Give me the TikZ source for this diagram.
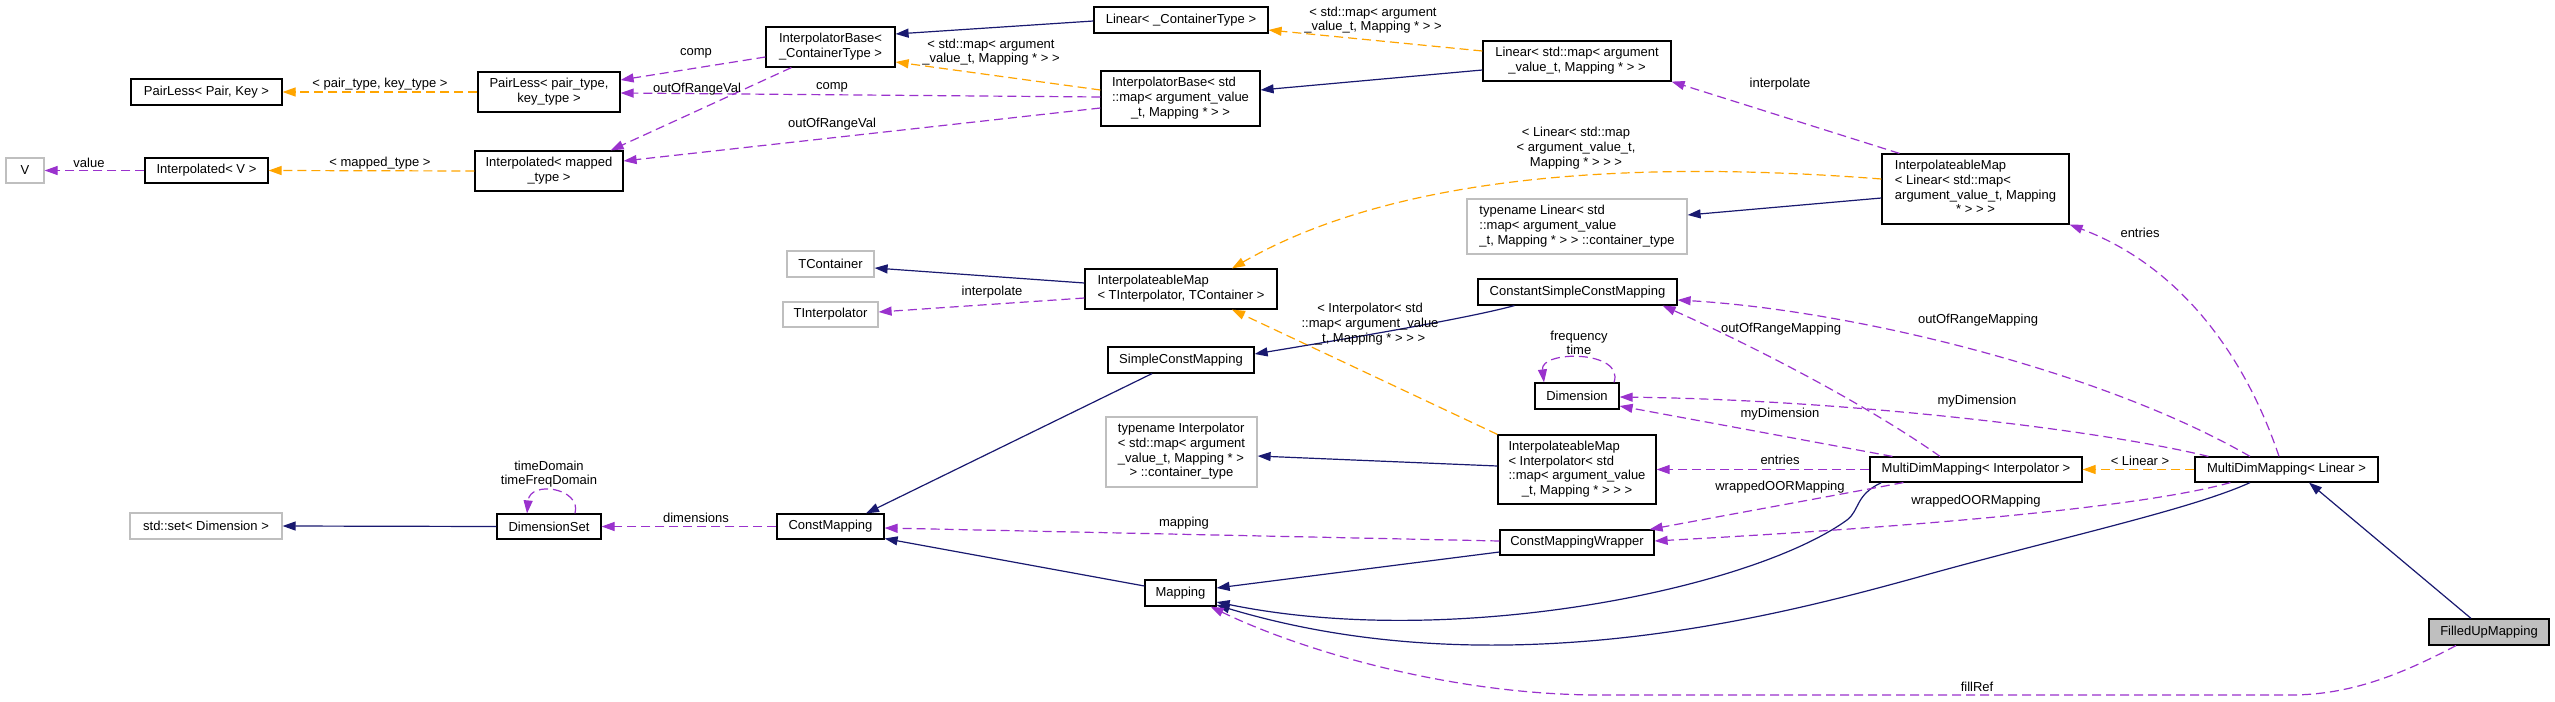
\documentclass[tikz,border=0pt]{standalone}
\usepackage{fontspec}
\setmainfont{Liberation Sans}
\usetikzlibrary{arrows.meta,calc}
\definecolor{navy}{HTML}{191970}
\definecolor{orch}{HTML}{9A32CD}
\definecolor{orng}{HTML}{FFA500}
\definecolor{greyS}{HTML}{BFBFBF}
\newcommand{\dfont}{\fontsize{13}{14.7}\selectfont}
\newcommand{\tb}[2]{\begin{tabular}{@{}l@{}}#1\\\multicolumn{1}{@{}c@{}}{#2}\end{tabular}}
\begin{document}
\begin{tikzpicture}[x=1pt,y=-1pt,
  box/.style={draw=black,line width=1.2pt,fill=white,inner sep=0pt,font=\dfont},
  gbox/.style={box,draw=greyS},
  fbox/.style={box,fill=greyS},
  sz/.style 2 args={minimum width=#1pt,minimum height=#2pt},
  lbl/.style={font=\dfont,inner sep=0pt,align=center},
  tip/.style={-{Triangle[length=13pt,width=9pt]}},
  inh/.style={draw=navy,line width=1.2pt,tip},
  use/.style={draw=orch,line width=1.2pt,dash pattern=on 9pt off 5pt,tip},
  tmpl/.style={draw=orng,line width=1.2pt,dash pattern=on 9pt off 5pt,tip}]
\fill[white] (0,0) rectangle (2555,701);
\useasboundingbox (0,0) rectangle (2555,701);

% nodes
\node[gbox,sz={38}{25}] (V) at (25,170.5) {V};
\node[box,sz={123}{25}] (IV) at (206.5,170.5) {Interpolated< V >};
\node[box,sz={151}{26}] (PLPK) at (206.5,92) {PairLess< Pair, Key >};
\node[box,sz={142}{40}] (PLpt) at (549,92) {\tb{PairLess< pair\_type,}{key\_type >}};
\node[box,sz={148}{40}] (Imt) at (549,171) {\tb{Interpolated< mapped}{\_type >}};
\node[box,sz={129}{40}] (IBC) at (830.5,47) {\tb{InterpolatorBase<}{\_ContainerType >}};
\node[box,sz={174}{26}] (LC) at (1181,20) {Linear< \_ContainerType >};
\node[box,sz={159}{55}] (IBS) at (1180.5,98.5) {\tb{InterpolatorBase< std\\::map< argument\_value}{\_t, Mapping * > >}};
\node[box,sz={188}{40}] (LS) at (1577,61) {\tb{Linear< std::map< argument}{\_value\_t, Mapping * > >}};
\node[box,sz={187}{70}] (IML) at (1975.5,189) {\tb{InterpolateableMap\\< Linear< std::map<\\ argument\_value\_t, Mapping}{* > > >}};
\node[gbox,sz={220}{55}] (TLC) at (1577,226.5) {\tb{typename Linear< std\\::map< argument\_value}{\_t, Mapping * > > ::container\_type}};
\node[gbox,sz={87}{26}] (TC) at (830.5,264) {TContainer};
\node[gbox,sz={95}{25}] (TI) at (830.5,314.5) {TInterpolator};
\node[box,sz={192}{40}] (IMT) at (1181,289) {\tb{InterpolateableMap}{< TInterpolator, TContainer >}};
\node[box,sz={199}{26}] (CSCM) at (1577.5,292) {ConstantSimpleConstMapping};
\node[box,sz={146}{26}] (SCM) at (1181,360) {SimpleConstMapping};
\node[box,sz={84}{26}] (Dim) at (1577,396) {Dimension};
\node[gbox,sz={151}{70}] (TIC) at (1181.5,452) {\tb{typename Interpolator\\< std::map< argument\\\_value\_t, Mapping * >}{> ::container\_type}};
\node[box,sz={158}{69}] (IMI) at (1577,469.5) {\tb{InterpolateableMap\\< Interpolator< std\\::map< argument\_value}{\_t, Mapping * > > >}};
\node[box,sz={212}{25}] (MDI) at (1976,469.5) {MultiDimMapping< Interpolator >};
\node[box,sz={183}{25}] (MDL) at (2286.5,469.5) {MultiDimMapping< Linear >};
\node[gbox,sz={152}{26}] (SetD) at (206,526) {std::set< Dimension >};
\node[box,sz={104}{25}] (DS) at (549,526.5) {DimensionSet};
\node[box,sz={107}{25}] (CM) at (830.5,526.5) {ConstMapping};
\node[box,sz={154}{25}] (CMW) at (1577,542.5) {ConstMappingWrapper};
\node[box,sz={71}{26}] (Map) at (1180.5,593) {Mapping};
\node[fbox,sz={120}{26}] (FUM) at (2489,632) {FilledUpMapping};

% connectors
\draw[use] (IV.west) -- (V.east);
\draw[tmpl] (Imt.west) -- (IV.east);
\draw[tmpl] (PLpt.west) -- (PLPK.east);
\draw[use] ($(IBC.west)+(0,10)$) -- ($(PLpt.east)+(0,-12)$);
\draw[use] ($(IBC.south west)+(26,0)$) -- ($(Imt.north east)+(-13,0)$);
\draw[use] ($(IBS.west)+(0,-1.5)$) -- ($(PLpt.east)+(0,1)$);
\draw[use] ($(IBS.west)+(0,9.5)$) -- ($(Imt.east)+(0,-10)$);
\draw[tmpl] ($(IBS.west)+(0,-8.5)$) -- ($(IBC.east)+(0,15)$);
\draw[inh] ($(LC.west)+(0,1)$) -- ($(IBC.east)+(0,-13)$);
\draw[tmpl] ($(LS.west)+(0,-10)$) -- ($(LC.east)+(0,10)$);
\draw[inh] ($(LS.west)+(0,9)$) -- ($(IBS.east)+(0,-8.5)$);
\draw[use] ($(IML.north west)+(18,0)$) -- (LS.south east);
\draw[tmpl] ($(IML.west)+(0,-10)$) .. controls (1700,165) and (1420,160) .. ($(IMT.north)+(51,0)$);
\draw[inh] ($(IML.west)+(0,9)$) -- ($(TLC.east)+(0,-11.5)$);
\draw[inh] ($(IMT.west)+(0,-6)$) -- ($(TC.east)+(0,4)$);
\draw[use] ($(IMT.west)+(0,9)$) -- ($(TI.east)+(0,-2.5)$);
\draw[tmpl] (IMI.north west) -- ($(IMT.south)+(51,0)$);
\draw[inh] ($(IMI.west)+(0,-3.5)$) -- ($(TIC.east)+(0,4)$);
\draw[inh] ($(CSCM.south west)+(37,0)$) .. controls (1480,315) and (1400,330) .. ($(SCM.east)+(0,-6)$);
\draw[inh] ($(SCM.south)+(-29,0)$) -- ($(CM.north)+(35.5,0)$);
\draw[inh] (DS.west) -- (SetD.east);
\draw[use] ($(DS.north)+(26,0)$) .. controls (582,488) and (530,480) .. ($(DS.north)+(-22,0)$);
\draw[use] (CM.west) -- (DS.east);
\draw[use] ($(CMW.west)+(0,-1.5)$) -- ($(CM.east)+(0,1.5)$);
\draw[inh] ($(Map.west)+(0,-7)$) -- ($(CM.east)+(0,12)$);
\draw[inh] ($(CMW.west)+(0,9.5)$) -- ($(Map.east)+(0,-5)$);
\draw[inh] ($(MDI.south west)+(12,0)$) .. controls (1855,495) and (1860,510) .. (1847,520) .. controls (1750,590) and (1450,650) .. ($(Map.east)+(0,9)$);
\draw[inh] ($(MDL.south)+(-36.5,0)$) .. controls (2190,510) and (2050,540) .. (1915,578) .. controls (1780,615) and (1500,690) .. ($(Map.east)+(0,12)$);
\draw[inh] ($(FUM.north)+(-18,0)$) -- ($(MDL.south)+(22.5,0)$);
\draw[use] ($(FUM.south)+(-33,0)$) .. controls (2400,675) and (2350,695) .. (2290,695) -- (1600,695) .. controls (1450,695) and (1300,650) .. ($(Map.south east)+(-6,0)$);
\draw[tmpl] (MDL.west) -- (MDI.east);
\draw[use] ($(MDL.north)+(-7.5,0)$) .. controls (2250,370) and (2190,270) .. (IML.south east);
\draw[use] ($(MDL.north)+(-36.5,0)$) .. controls (2100,370) and (1850,310) .. ($(CSCM.east)+(0,8)$);
\draw[use] ($(MDI.north)+(-36,0)$) .. controls (1860,400) and (1740,340) .. ($(CSCM.south east)+(-15,0)$);
\draw[use] ($(MDL.north west)+(14,0)$) .. controls (2100,430) and (1850,400) .. ($(Dim.east)+(0,1)$);
\draw[use] ($(MDI.north west)+(23,0)$) -- ($(Dim.east)+(0,10)$);
\draw[use] (MDI.west) -- (IMI.east);
\draw[use] ($(MDI.south west)+(34,0)$) -- ($(CMW.north east)+(-5,0)$);
\draw[use] ($(MDL.south west)+(36,0)$) .. controls (2150,505) and (1950,525) .. ($(CMW.east)+(0,-1.5)$);
\draw[use] ($(Dim.north)+(37,0)$) .. controls (1625,350) and (1540,350) .. ($(Dim.north)+(-33,0)$);

% labels
\node[lbl] (t1) at (89,163) {value};
\node[lbl] (t2) at (380,163) {< mapped\_type >};
\node[lbl] (t3) at (380,84) {< pair\_type, key\_type >};
\node[lbl] (t4) at (696,53) {comp};
\node[lbl] (t5) at (697,89) {outOfRangeVal};
\node[lbl] (t6) at (832,87) {comp};
\node[lbl] (t7) at (832,124) {outOfRangeVal};
\node[lbl] (t8) at (991,52) {< std::map< argument\\\_value\_t, Mapping * > >};
\node[lbl] (t9) at (1373,20) {< std::map< argument\\\_value\_t, Mapping * > >};
\node[lbl] (t10) at (1780,84) {interpolate};
\node[lbl] (t11) at (1576,148) {< Linear< std::map\\< argument\_value\_t,\\Mapping * > > >};
\node[lbl] (t12) at (2140,233) {entries};
\node[lbl] (t13) at (992,292) {interpolate};
\node[lbl] (t14) at (1978,320) {outOfRangeMapping};
\node[lbl] (t15) at (1781,329) {outOfRangeMapping};
\node[lbl] (t16) at (1370,324) {< Interpolator< std\\::map< argument\_value\\\_t, Mapping * > > >};
\node[lbl] (t17) at (1579,343) {frequency\\time};
\node[lbl] (t18) at (1977,401) {myDimension};
\node[lbl] (t19) at (1780,414) {myDimension};
\node[lbl] (t20) at (1780,460) {entries};
\node[lbl] (t21) at (2140,461) {< Linear >};
\node[lbl] (t22) at (1780,487) {wrappedOORMapping};
\node[lbl] (t23) at (1976,501) {wrappedOORMapping};
\node[lbl] (t24) at (549,474) {timeDomain\\timeFreqDomain};
\node[lbl] (t25) at (696,518) {dimensions};
\node[lbl] (t26) at (1184,523) {mapping};
\node[lbl] (t27) at (1977,687) {fillRef};
\end{tikzpicture}
\end{document}
